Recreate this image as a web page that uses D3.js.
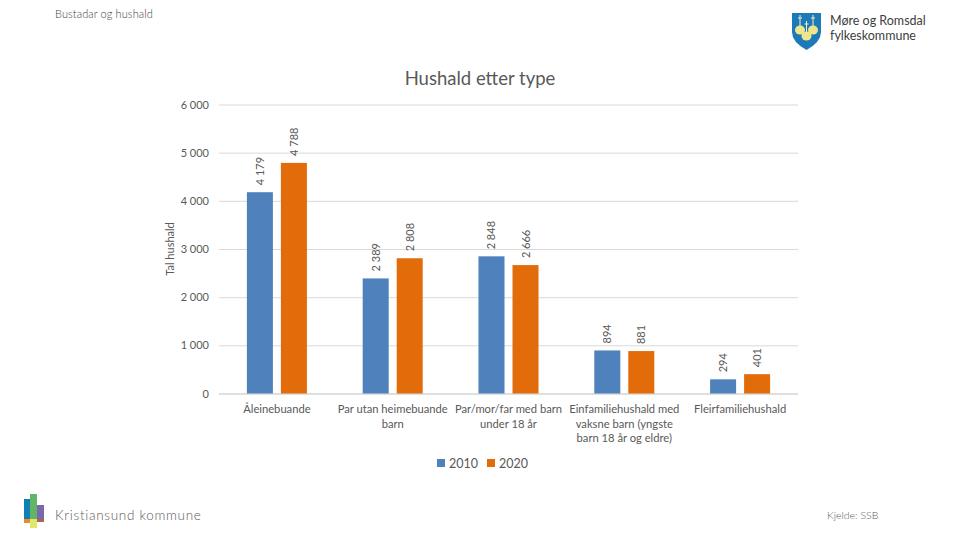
<!DOCTYPE html>
<html>
<head>
<meta charset="utf-8">
<script src="https://cdn.jsdelivr.net/npm/d3@7"></script>
<style>
html, body { margin: 0; background: #fff; }
svg { display: block; }
text { font-family: Lato, "Open Sans", sans-serif; }
</style>
</head>
<body>
<svg id="chart" width="960" height="540"></svg>
<script>
'use strict';

var categories = [
	['Åleinebuande'],
	['Par utan heimebuande', 'barn'],
	['Par/mor/far med barn', 'under 18 år'],
	['Einfamiliehushald med', 'vaksne barn (yngste', 'barn 18 år og eldre)'],
	['Fleirfamiliehushald'],
];
var years = ['2010', '2020'];
var values2010 = [4179, 2389, 2848, 894, 294];
var values2020 = [4788, 2808, 2666, 881, 401];
var ticks = [0, 1000, 2000, 3000, 4000, 5000, 6000];
var colors = ['#4f81bd', '#e36c0a'];

var fmt = function (v) { return d3.format(',')(v).replace(/,/g, ' '); };

var svg = d3.select('#chart');

var x = d3.scaleBand()
	.domain(d3.range(categories.length))
	.range([219, 798]);
var xYear = d3.scaleBand()
	.domain(years)
	.range([0, x.bandwidth()])
	.paddingInner(0.235)
	.paddingOuter(0.82);
var y = d3.scaleLinear()
	.domain([0, 6000])
	.range([393.5, 104.5]);

// slide header and footer
svg.append('text')
	.attr('x', 55).attr('y', 18)
	.attr('font-size', 11).attr('font-weight', 300).attr('letter-spacing', 0.1).attr('fill', '#404040')
	.text('Bustadar og hushald');
svg.append('text')
	.attr('x', 55).attr('y', 520)
	.attr('font-size', 13.5).attr('font-weight', 300).attr('letter-spacing', 0.7).attr('fill', '#595959')
	.text('Kristiansund kommune');
svg.append('text')
	.attr('x', 827).attr('y', 519)
	.attr('font-size', 10.5).attr('font-weight', 300).attr('fill', '#595959')
	.text('Kjelde: SSB');

// county logo
var crest = svg.append('g').attr('transform', 'translate(792 13)');
crest.append('path')
	.attr('d', 'M0 0H29V19Q29 29 14.5 37Q0 29 0 19Z')
	.attr('fill', '#1d7ab8');
[[8, 17], [14.5, 23], [21, 17]].forEach(function (b) {
	crest.append('path')
		.attr('d', 'M' + b[0] + ' ' + (b[1] - 15) + 'V' + (b[1] - 3)
			+ 'M' + (b[0] - 2) + ' ' + (b[1] - 12) + 'H' + (b[0] + 2))
		.attr('stroke', '#f4f0c0').attr('stroke-width', 1);
	crest.append('ellipse')
		.attr('cx', b[0]).attr('cy', b[1])
		.attr('rx', 5).attr('ry', 4.5)
		.attr('fill', '#efe58c');
});
svg.append('text')
	.attr('x', 830).attr('y', 24.8)
	.attr('font-size', 12.5).attr('fill', '#404040')
	.text('Møre og Romsdal');
svg.append('text')
	.attr('x', 830).attr('y', 39.8)
	.attr('font-size', 12.5).attr('fill', '#404040')
	.text('fylkeskommune');

// municipality logo
var blocks = svg.append('g').attr('transform', 'translate(24 494)');
blocks.append('rect').attr('x', 0).attr('y', 5).attr('width', 6).attr('height', 20).attr('fill', '#0f7fb5');
blocks.append('rect').attr('x', 6).attr('y', 0).attr('width', 7).attr('height', 25).attr('fill', '#62b565');
blocks.append('rect').attr('x', 13).attr('y', 11).attr('width', 7).attr('height', 14).attr('fill', '#7b67ad');
blocks.append('rect').attr('x', 0).attr('y', 25).attr('width', 6).attr('height', 4).attr('fill', '#ee8a2c');
blocks.append('rect').attr('x', 6).attr('y', 25).attr('width', 7).attr('height', 9).attr('fill', '#dfe86a');
blocks.append('rect').attr('x', 13).attr('y', 25).attr('width', 7).attr('height', 3).attr('fill', '#a8674f');

svg.append('text')
	.attr('x', 480).attr('y', 85)
	.attr('text-anchor', 'middle')
	.attr('font-size', 18.5).attr('fill', '#595959')
	.text('Hushald etter type');

// y axis with gridlines
var yAxis = svg.append('g')
	.attr('transform', 'translate(219 0)')
	.call(d3.axisLeft(y).tickValues(ticks).tickFormat(fmt).tickSize(0).tickPadding(10));
yAxis.select('.domain').remove();
yAxis.selectAll('text')
	.style('font-family', 'Lato, "Open Sans", sans-serif')
	.attr('font-size', 11).attr('fill', '#595959');
yAxis.selectAll('.tick line')
	.attr('x2', 579)
	.attr('stroke', function (d) { return d === 0 ? '#bfbfbf' : '#d9d9d9'; });

svg.append('text')
	.attr('transform', 'translate(174 249) rotate(-90)')
	.attr('text-anchor', 'middle')
	.attr('font-size', 11).attr('fill', '#595959')
	.text('Tal hushald');

// bars and their labels
[values2010, values2020].forEach(function (values, s) {
	var group = svg.append('g');
	group.selectAll('rect')
		.data(values)
		.enter()
		.append('rect')
			.attr('x', function (d, i) { return x(i) + xYear(years[s]); })
			.attr('y', function (d) { return y(d); })
			.attr('width', xYear.bandwidth())
			.attr('height', function (d) { return y(0) - y(d); })
			.attr('fill', colors[s]);
	group.selectAll('text')
		.data(values)
		.enter()
		.append('text')
			.attr('transform', function (d, i) {
				var cx = x(i) + xYear(years[s]) + xYear.bandwidth() / 2;
				return 'translate(' + (cx + 4) + ' ' + (y(d) - 7) + ') rotate(-90)';
			})
			.attr('font-size', 11).attr('fill', '#595959')
			.text(fmt);
});

// category labels
svg.append('g').selectAll('text')
	.data(categories)
	.enter()
	.append('text')
		.attr('text-anchor', 'middle')
		.attr('font-size', 11.2).attr('fill', '#595959')
		.each(function (lines, i) {
			d3.select(this).selectAll('tspan')
				.data(lines)
				.enter()
				.append('tspan')
					.attr('x', x(i) + x.bandwidth() / 2)
					.attr('y', function (d, j) { return 413 + j * 14.6; })
					.text(function (d) { return d; });
		});

// legend
var legend = svg.append('g').selectAll('g')
	.data(years)
	.enter()
	.append('g')
		.attr('transform', function (d, i) { return 'translate(' + (437 + i * 50) + ' 459)'; });
legend.append('rect')
	.attr('width', 8).attr('height', 8)
	.attr('fill', function (d, i) { return colors[i]; });
legend.append('text')
	.attr('x', 12).attr('y', 8.5)
	.attr('font-size', 12.5).attr('fill', '#595959')
	.text(function (d) { return d; });
</script>
</body>
</html>
